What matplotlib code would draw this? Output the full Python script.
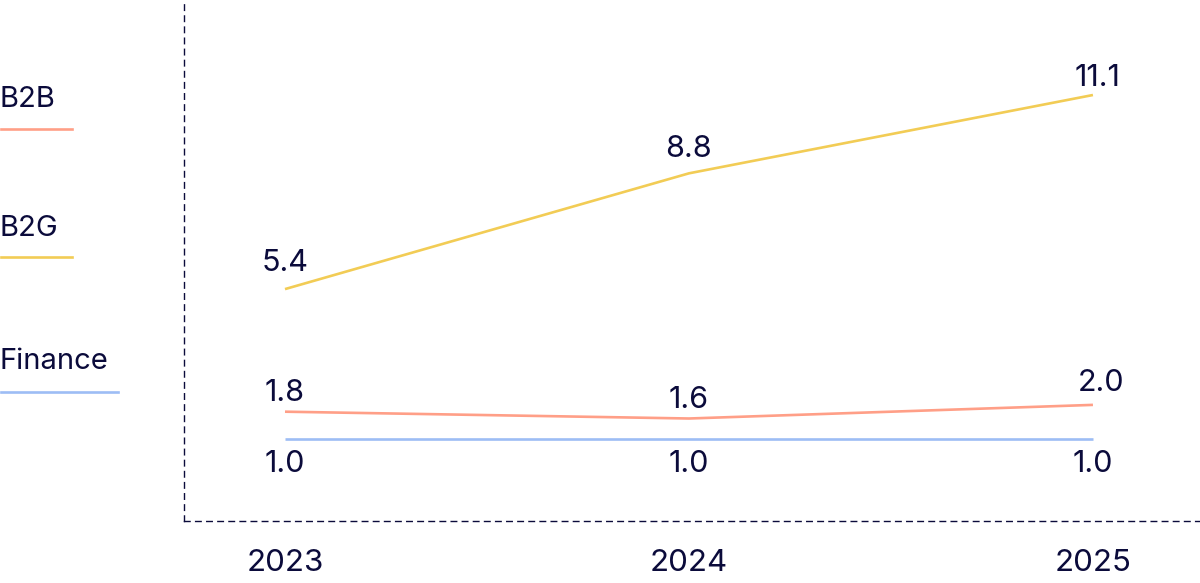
import matplotlib
matplotlib.use("Agg")
import matplotlib.pyplot as plt
from matplotlib.lines import Line2D

# --- data ---
years = [2023, 2024, 2025]
b2b = [1.8, 1.6, 2.0]
b2g = [5.4, 8.8, 11.1]
finance = [1.0, 1.0, 1.0]

series_names = ["B2B", "B2G", "Finance"]
series_values = [b2b, b2g, finance]
series_colors = ["#FF9F87", "#F2CC55", "#9DBDF5"]

# label offsets in pixels (dx, dy) per point
label_offsets = [
    [(0, 22), (0, 22), (8, 25)],
    [(0, 29), (0, 27), (5, 20)],
    [(0, -22), (0, -22), (0, -22)],
]

TEXT = "#0B0B3B"
plt.rcParams["font.family"] = ["Inter", "DejaVu Sans"]

fig = plt.figure(figsize=(12, 5.83), dpi=100)
ax = fig.add_axes([184 / 1200, 62 / 583, 1 - 184 / 1200, 1 - 62 / 583])

for name, vals, col, offs in zip(series_names, series_values, series_colors, label_offsets):
    ax.plot(years, vals, color=col, linewidth=1.9, solid_capstyle="butt")
    for x, v, (dx, dy) in zip(years, vals, offs):
        ax.annotate(f"{v:.1f}", (x, v), xytext=(dx, dy), textcoords="offset pixels",
                    ha="center", va="center_baseline", fontsize=22, color=TEXT)

ax.set_xlim(2022.75, 2025.265)
ax.set_ylim(-1.41, 13.89)
ax.set_xticks(years)
ax.set_xticklabels([str(y) for y in years])
ax.set_yticks([])
ax.tick_params(axis="x", length=0, pad=20.5, labelsize=22.5, labelcolor=TEXT)

for side in ["top", "right"]:
    ax.spines[side].set_visible(False)
for side in ["left", "bottom"]:
    ax.spines[side].set_color(TEXT)
    ax.spines[side].set_linewidth(1.0)
    ax.spines[side].set_linestyle((0, (4, 4)))

# --- legend (stacked labels with underlines) ---
legend_y = [96.5, 225.5, 358.5]
line_y = [129, 257, 392]
line_len = [72, 72, 118]
for name, col, ty, ly, ln in zip(series_names, series_colors, legend_y, line_y, line_len):
    fig.text(0.0, 1 - ty / 583, name, ha="left", va="center_baseline", fontsize=21, color=TEXT)
    fig.add_artist(Line2D([1 / 1200, ln / 1200], [1 - ly / 583, 1 - ly / 583],
                          color=col, linewidth=1.9, transform=fig.transFigure))

fig.savefig("out.png", dpi=100)
